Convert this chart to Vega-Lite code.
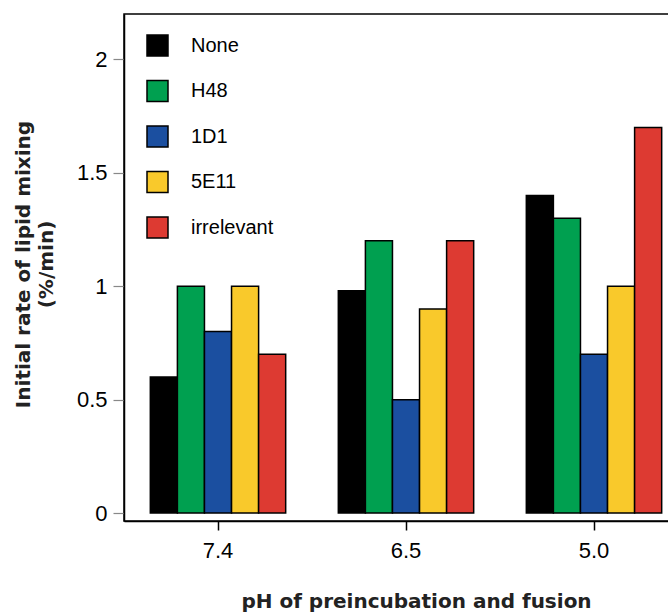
{
  "$schema": "https://vega.github.io/schema/vega-lite/v6.json",
  "autosize": "none",
  "width": 564,
  "height": 507,
  "padding": {"left": 124, "top": 14, "right": 0, "bottom": 92},
  "background": "white",
  "config": {
    "font": "Liberation Sans",
    "view": {"stroke": "black", "strokeWidth": 1.5}
  },
  "data": {
    "values": [
      {"pH": "7.4", "antibody": "None", "rate": 0.6},
      {"pH": "7.4", "antibody": "H48", "rate": 1.0},
      {"pH": "7.4", "antibody": "1D1", "rate": 0.8},
      {"pH": "7.4", "antibody": "5E11", "rate": 1.0},
      {"pH": "7.4", "antibody": "irrelevant", "rate": 0.7},
      {"pH": "6.5", "antibody": "None", "rate": 0.98},
      {"pH": "6.5", "antibody": "H48", "rate": 1.2},
      {"pH": "6.5", "antibody": "1D1", "rate": 0.5},
      {"pH": "6.5", "antibody": "5E11", "rate": 0.9},
      {"pH": "6.5", "antibody": "irrelevant", "rate": 1.2},
      {"pH": "5.0", "antibody": "None", "rate": 1.4},
      {"pH": "5.0", "antibody": "H48", "rate": 1.3},
      {"pH": "5.0", "antibody": "1D1", "rate": 0.7},
      {"pH": "5.0", "antibody": "5E11", "rate": 1.0},
      {"pH": "5.0", "antibody": "irrelevant", "rate": 1.7}
    ]
  },
  "mark": {"type": "bar", "stroke": "black", "strokeWidth": 1.5},
  "encoding": {
    "x": {
      "field": "pH",
      "type": "nominal",
      "sort": ["7.4", "6.5", "5.0"],
      "scale": {"paddingInner": 0.28, "paddingOuter": 0.14},
      "axis": {
        "title": "pH of preincubation and fusion",
        "titleFont": "DejaVu Sans",
        "titleFontSize": 20,
        "titleFontWeight": "bold",
        "titleColor": "#222222",
        "titleBaseline": "alphabetic",
        "titleX": 292,
        "titleY": 86,
        "labelAngle": 0,
        "labelFontSize": 22,
        "labelColor": "black",
        "labelPadding": 10,
        "tickSize": 9,
        "tickColor": "black",
        "tickWidth": 1.5,
        "domainColor": "black",
        "domainWidth": 1.5
      }
    },
    "xOffset": {
      "field": "antibody",
      "type": "nominal",
      "sort": ["None", "H48", "1D1", "5E11", "irrelevant"],
      "scale": {"paddingInner": 0, "paddingOuter": 0}
    },
    "y": {
      "field": "rate",
      "type": "quantitative",
      "scale": {"domain": [-0.035, 2.2], "nice": false, "zero": false},
      "axis": {
        "title": ["Initial rate of lipid mixing", "(%/min)"],
        "titleFont": "DejaVu Sans",
        "titleFontSize": 20,
        "titleFontWeight": "bold",
        "titleColor": "#222222",
        "titleLineHeight": 23,
        "titleBaseline": "alphabetic",
        "titleX": -95,
        "titleY": 250,
        "values": [0, 0.5, 1, 1.5, 2],
        "format": "~g",
        "grid": false,
        "labelFontSize": 22,
        "labelColor": "black",
        "labelPadding": 6,
        "tickSize": 11,
        "tickColor": "#888888",
        "tickWidth": 1.2,
        "domainColor": "black",
        "domainWidth": 1.5
      }
    },
    "fill": {
      "field": "antibody",
      "type": "nominal",
      "sort": ["None", "H48", "1D1", "5E11", "irrelevant"],
      "scale": {
        "domain": ["None", "H48", "1D1", "5E11", "irrelevant"],
        "range": ["#000000", "#00A050", "#1B4FA0", "#F9C92B", "#DD3A32"]
      },
      "legend": {
        "title": null,
        "orient": "none",
        "legendX": 22,
        "legendY": 20,
        "padding": 0,
        "symbolType": "square",
        "symbolSize": 441,
        "symbolStrokeColor": "black",
        "symbolStrokeWidth": 1.5,
        "symbolOpacity": 1,
        "labelFontSize": 20,
        "labelColor": "black",
        "labelOffset": 22,
        "rowPadding": 18.5
      }
    }
  }
}
